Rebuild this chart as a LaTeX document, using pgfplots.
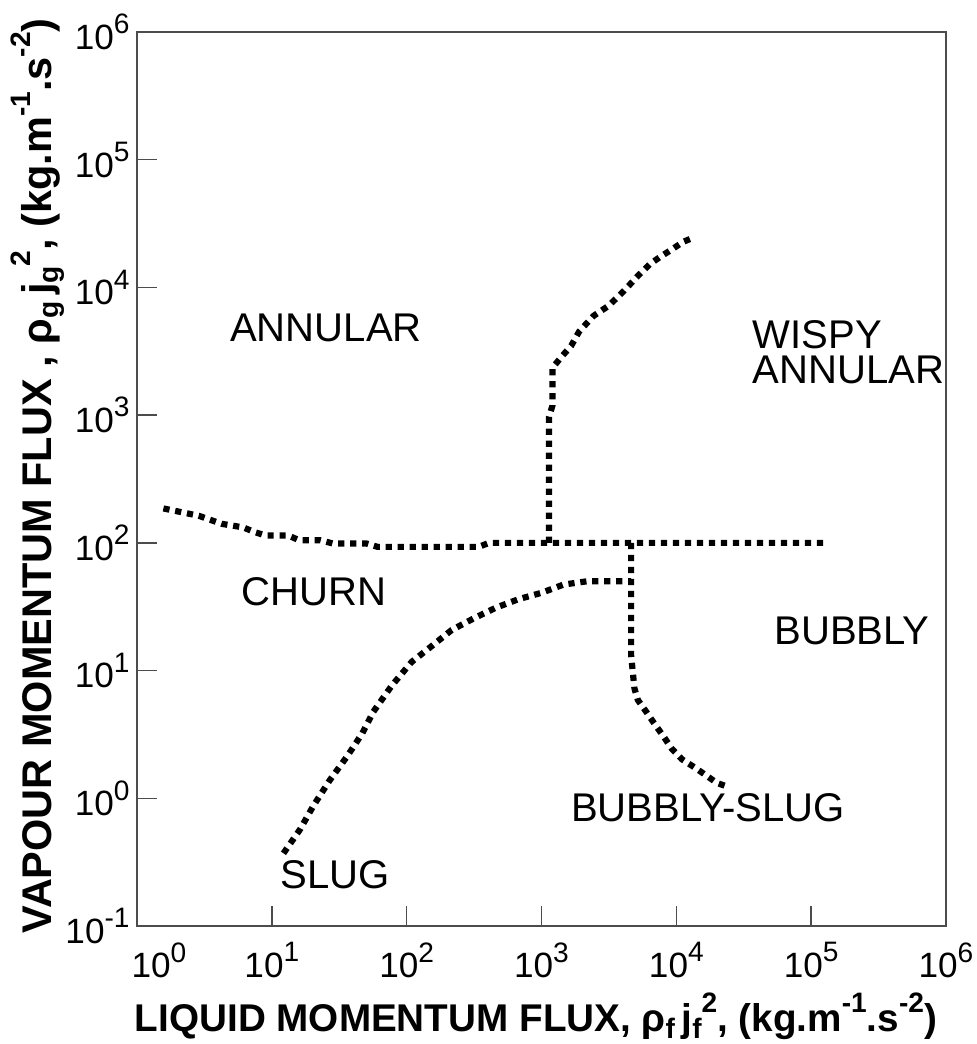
\documentclass[border=0pt]{standalone}
\usepackage{fontspec}
\setmainfont{Liberation Sans}
\usepackage{pgfplots}
\pgfplotsset{compat=1.18}
\tikzset{region/.style={font=\fontsize{11.4}{13}\selectfont}}
\newcommand\sups[1]{\raisebox{0.45em}{\fontsize{8}{8}\selectfont #1}}
\newcommand\lsup[1]{\raisebox{0.5em}{\fontsize{8}{8}\selectfont #1}}
\newcommand\lsub[1]{\raisebox{-0.18em}{\fontsize{8}{8}\selectfont #1}}
\begin{document}
\begin{tikzpicture}
\useasboundingbox (0,0) rectangle (97.7mm,104.4mm);
\begin{axis}[
  at={(13.7mm,11.8mm)}, anchor=south west,
  scale only axis, width=80.9mm, height=89.4mm,
  xmode=log, ymode=log,
  xmin=1, xmax=1e6, ymin=0.1, ymax=1e6,
  xtick={1,10,100,1000,10000,100000,1000000},
  xticklabels={\hspace*{4.4mm}10\sups{0},10\sups{1},10\sups{2},10\sups{3},10\sups{4},10\sups{5},10\sups{6}},
  ytick={0.1,1,10,100,1000,10000,100000,1000000},
  yticklabels={10\sups{-1},10\sups{0},10\sups{1},10\sups{2},10\sups{3},10\sups{4},10\sups{5},10\sups{6}},
  xminorticks=false, yminorticks=false,
  xtick pos=bottom, ytick pos=left,
  major tick length=2mm,
  tick style={black!70, line width=0.15mm},
  axis line style={black!70, line width=0.15mm},
  tick label style={font=\fontsize{10}{11}\selectfont},
  xticklabel style={yshift=-0.4mm},
  yticklabel style={xshift=0.5mm},
  clip=false,
]
\addplot[black, line width=0.62mm, dash pattern=on 0.62mm off 0.58mm] coordinates {
(1.57,186) (2.87,163) (4.24,141) (6.15,132) (7.38,122) (9.0,114) (13.3,114) (15.9,105) (22.8,105) (28.2,99) (50,99) (61,93) (342,93) (408,100) (127000,100)};
\addplot[black, line width=0.62mm, dash pattern=on 0.62mm off 0.58mm] coordinates {
(1138,100) (1138,968) (1205,1187) (1205,2344) (1391,2820) (1660,3490) (1901,4510) (2428,5980) (3158,7200) (4100,9430) (5210,12370) (6360,15200) (7620,17400) (9310,19900) (11200,22700) (13560,24700)};
\addplot[black, line width=0.62mm, dash pattern=on 0.62mm off 0.58mm] coordinates {
(12.2,0.371) (16.2,0.571) (20.3,0.871) (26.7,1.37) (36.3,2.14) (46.9,3.23) (56.6,4.76) (77.5,7.62) (109,11.7) (147,15.0) (216,20.8) (316,25.7) (460,31.1) (674,36.2) (1005,40.7) (1454,47.1) (2168,50.0) (4620,50.0)};
\addplot[black, line width=0.62mm, dash pattern=on 0.62mm off 0.58mm] coordinates {
(4620,100) (4620,13.2) (4890,7.26) (5180,5.89) (5970,4.77) (6760,3.94) (8110,3.01) (9260,2.44) (11000,2.02) (13600,1.75) (16500,1.52) (19950,1.32) (24100,1.23)};
\node[region] at (axis cs:25.2,4820) {ANNULAR};
\node[region, anchor=west, align=left, inner sep=0pt] at (axis cs:36500,3125) {WISPY\\[-3pt]ANNULAR};
\node[region] at (axis cs:20.6,41.3) {CHURN};
\node[region] at (axis cs:201000,20.4) {BUBBLY};
\node[region] at (axis cs:17200,0.84) {BUBBLY-SLUG};
\node[region] at (axis cs:29.4,0.25) {SLUG};
\end{axis}
\node[font=\fontsize{11}{13}\selectfont\bfseries] at (53.6mm,2.8mm)
  {LIQUID MOMENTUM FLUX, ρ\lsub{f}\,j\lsub{f}\lsup{2}, (kg.m\lsup{-1}.s\lsup{-2})};
\node[rotate=90, font=\fontsize{11.8}{13}\selectfont\bfseries] at (3.8mm,56.8mm)
  {VAPOUR MOMENTUM FLUX , ρ\lsub{g}\,j\lsub{g}\lsup{2}, (kg.m\lsup{-1}.s\lsup{-2})};
\end{tikzpicture}
\end{document}
